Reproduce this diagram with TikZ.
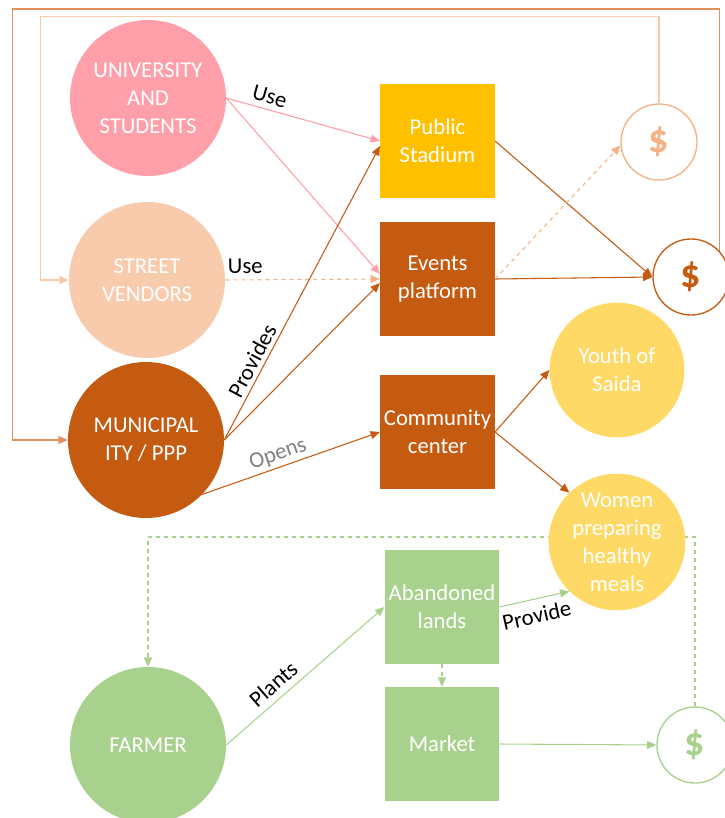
\documentclass[tikz,border=0pt]{standalone}
\usepackage{fontspec}
\setmainfont{Carlito}
\usepackage{tikz}
\usetikzlibrary{arrows.meta,backgrounds}
\definecolor{unipink}{HTML}{FF9FAA}
\definecolor{vendpeach}{HTML}{F8CBAD}
\definecolor{muniorange}{HTML}{C55A11}
\definecolor{loopbrown}{HTML}{E0915A}
\definecolor{stadgold}{HTML}{FFC000}
\definecolor{youthyellow}{HTML}{FFD966}
\definecolor{farmgreen}{HTML}{A9D18E}
\definecolor{lightorange}{HTML}{F4B183}

\begin{document}
\begin{tikzpicture}[
  x=0.75pt,y=-0.75pt,
  >={Triangle[length=7pt,width=6pt]},
  actor/.style={circle,minimum size=117pt,inner sep=1pt,align=center,text=white,
    font=\fontsize{17}{21}\selectfont},
  group/.style={circle,minimum size=101pt,inner sep=1pt,align=center,text=white,
    font=\fontsize{17}{21}\selectfont},
  place/.style={rectangle,minimum width=86pt,minimum height=85.5pt,inner sep=1pt,
    align=center,text=white,font=\fontsize{17}{21}\selectfont},
  money/.style={circle,draw,line width=1pt,fill=white,minimum size=57pt,
    font=\fontsize{30}{30}\selectfont\bfseries},
  edg/.style={->,line width=0.8pt},
  elab/.style={font=\fontsize{17}{20}\selectfont,inner sep=1pt,sloped,text=black}]

  \clip (0,0) rectangle (725,818);

  % actors on the left
  \node[actor,fill=unipink]    (uni)  at (148,98)  {UNIVERSITY\\AND\\STUDENTS};
  \node[actor,fill=vendpeach]  (vend) at (147,280) {STREET\\VENDORS};
  \node[actor,fill=muniorange] (muni) at (146,440) {MUNICIPAL\\ITY / PPP};
  \node[actor,fill=farmgreen]  (farm) at (148,745) {FARMER};

  % places in the middle
  \node[place,fill=stadgold]   (stad)  at (437.5,141) {Public\\Stadium};
  \node[place,fill=muniorange] (evt)   at (437.5,279) {Events\\platform};
  \node[place,fill=muniorange] (comm)  at (437.5,432) {Community\\center};
  \node[place,fill=farmgreen]  (aband) at (442,607)   {Abandoned\\lands};
  \node[place,fill=farmgreen]  (mkt)   at (442,744)   {Market};

  % beneficiaries
  \node[group,fill=youthyellow] (youth) at (617,370) {Youth of\\Saida};
  \node[group,fill=youthyellow] (women) at (617,542) {Women\\preparing\\healthy\\meals};

  % revenue
  \node[money,draw=lightorange,text=lightorange] (dL) at (659,142) {\$};
  \node[money,draw=muniorange,text=muniorange]   (dA) at (691,277) {\$};
  \node[money,draw=farmgreen,text=farmgreen]     (dG) at (695,745) {\$};

  % return loops
  \coordinate (otl) at (12.5,9);
  \coordinate (itl) at (40.5,16.5);
  \coordinate (gtl) at (148,537);
  \draw[->,line width=1pt,loopbrown] (dA.42) |- (otl) |- (muni.west);
  \draw[->,line width=1pt,vendpeach] (dL.north) |- (itl) |- (vend.west);
  \begin{pgfonlayer}{background}
    \draw[->,line width=0.8pt,farmgreen,dashed] (dG.north) |- (gtl) -- (farm.north);
  \end{pgfonlayer}

  % use
  \draw[edg,unipink] (uni.east) -- (stad.west) node[elab,pos=0.26,above=3pt]{Use};
  \draw[edg,unipink] (uni.east) -- (evt.175);
  \draw[edg,lightorange,dashed] (vend.east) -- (evt.west) node[elab,pos=0.13,above=3pt]{Use};

  % provides / opens
  \draw[edg,muniorange] (muni.east) -- (stad.185) node[elab,pos=0.25,above=2pt]{Provides};
  \draw[edg,muniorange] (muni.east) -- (evt.184);
  \draw[edg,muniorange] (muni.-44) -- (comm.west)
    node[elab,pos=0.45,above=1pt,text=black!50]{Opens};

  % income
  \draw[edg,muniorange] (stad.east) -- (dA.west);
  \draw[edg,muniorange] (evt.east) -- (dA.west);
  \draw[edg,lightorange,dashed] (evt.east) -- (dL.185);
  \draw[edg,muniorange] (comm.east) -- (youth.west);
  \draw[edg,muniorange] (comm.east) -- (women.134);

  % farming chain
  \draw[edg,farmgreen] (farm.east) -- (aband.west) node[elab,pos=0.36,above=4pt]{Plants};
  \draw[edg,farmgreen] (aband.east) -- (women.226) node[elab,pos=0.48,below=5pt]{Provide};
  \draw[edg,farmgreen,dashed] (aband.south) -- (mkt.north);
  \draw[edg,farmgreen] (mkt.east) -- (dG.west);
\end{tikzpicture}
\end{document}
